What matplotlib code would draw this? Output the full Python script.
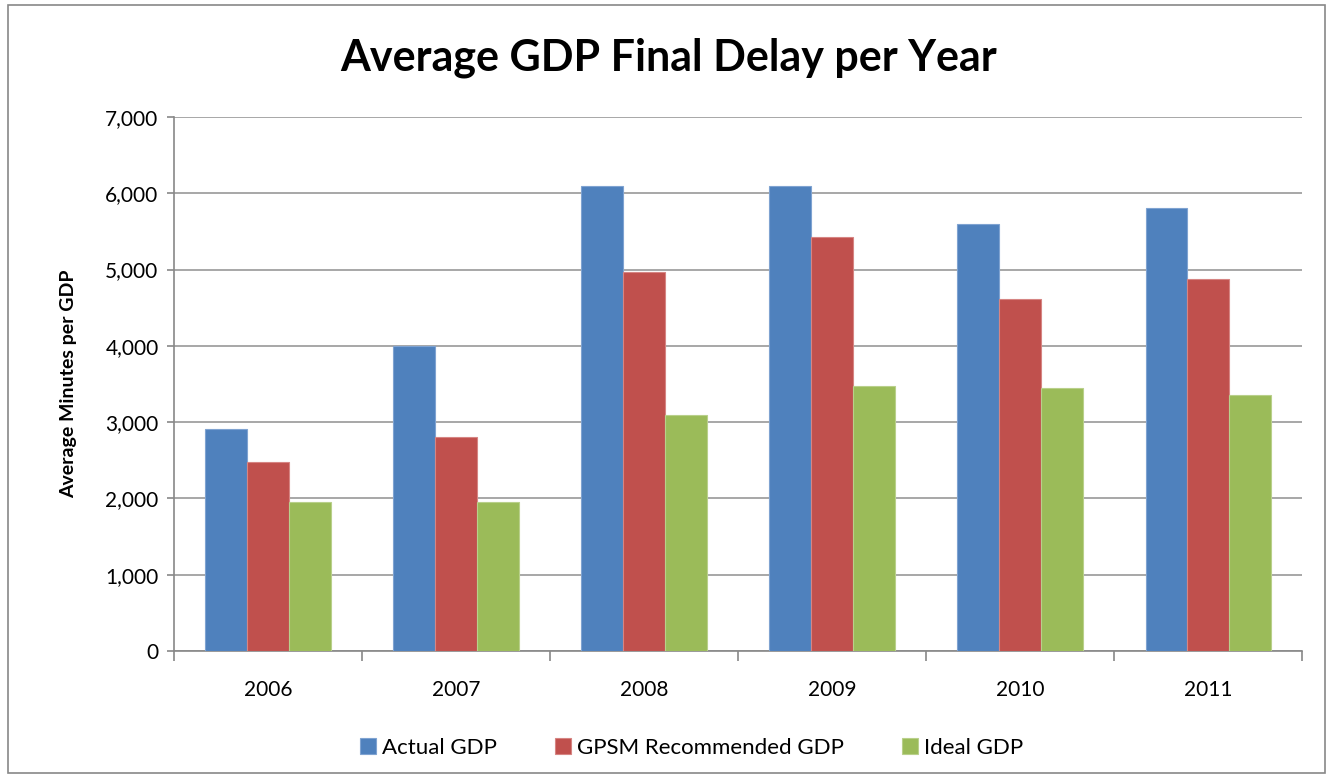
import matplotlib
matplotlib.use('Agg')
import matplotlib.pyplot as plt
import numpy as np
from matplotlib.patches import Rectangle

plt.rcParams['font.family'] = ['Lato', 'DejaVu Sans']

years = ['2006', '2007', '2008', '2009', '2010', '2011']
actual = [2912, 4000, 6090, 6090, 5599, 5813]
gpsm = [2472, 2808, 4966, 5425, 4620, 4878]
ideal = [1952, 1952, 3097, 3477, 3451, 3362]
series_names = ['Actual GDP', 'GPSM Recommended GDP', 'Ideal GDP']
colors = ['#4F81BD', '#C0504D', '#9BBB59']
edges = ['#7FA3D1', '#D68583', '#B9D08B']

fig = plt.figure(figsize=(13.37, 7.75), dpi=100)
ax = fig.add_axes([0.130, 0.16, 0.844, 0.689])

# chart border
fig.patches.append(Rectangle((0.006, 0.002), 0.985, 0.992, transform=fig.transFigure,
                             fill=False, edgecolor='#888888', linewidth=1.2))

x = np.arange(len(years))
w = 1 / 4.5
for i, (vals, name) in enumerate(zip([actual, gpsm, ideal], series_names)):
    ax.bar(x + (i - 1) * w, vals, width=w, color=colors[i], edgecolor=edges[i],
           linewidth=0.8, label=name, zorder=3)

ax.set_xlim(-0.5, len(years) - 0.5)
ax.set_ylim(0, 7000)
ax.set_yticks(range(0, 7001, 1000))
ax.set_yticklabels([f'{v:,}' for v in range(0, 7001, 1000)], fontsize=15)
ax.yaxis.grid(True, color='#A0A0A0', linewidth=1.3, zorder=0)

ax.set_xticks(x)
ax.set_xticklabels(years, fontsize=15)
ax.set_xticks(np.arange(-0.5, len(years)), minor=True)
ax.tick_params(axis='x', which='major', length=0, pad=21)
ax.tick_params(axis='x', which='minor', length=7, color='#888888', width=1.2)
ax.tick_params(axis='y', length=5, color='#888888', width=1.2, pad=6)

for s in ['top', 'right']:
    ax.spines[s].set_visible(False)
for s in ['left', 'bottom']:
    ax.spines[s].set_color('#888888')
    ax.spines[s].set_linewidth(1.2)

ax.set_ylabel('Average Minutes per GDP', fontsize=14, fontweight='bold', labelpad=20)
fig.text(0.5, 0.926, 'Average GDP Final Delay per Year', fontsize=31, fontweight='bold',
         ha='center', va='center')

ax.legend(loc='upper center', bbox_to_anchor=(0.459, -0.125), ncol=3, frameon=False,
          fontsize=16, handlelength=0.7, handleheight=0.7, handletextpad=0.3,
          columnspacing=2.6)

fig.savefig('out.png', dpi=100)
